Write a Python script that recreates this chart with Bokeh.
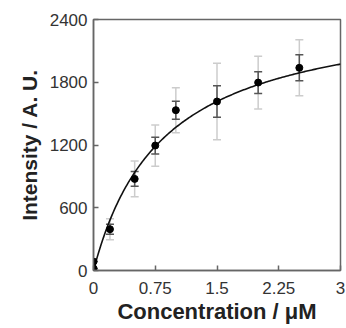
from bokeh.plotting import figure
from bokeh.models import ColumnDataSource, Whisker, FixedTicker, TeeHead
from bokeh.embed import file_html
from bokeh.resources import INLINE
import numpy as np

# data
conc = [0.0, 0.0, 0.2, 0.5, 0.75, 1.0, 1.5, 2.0, 2.5]
intensity = [20, 85, 395, 876, 1195, 1533, 1616, 1797, 1938]
err_small = [0, 0, 48, 70, 80, 86, 150, 104, 124]
err_large = [0, 0, 100, 172, 197, 215, 366, 252, 268]

# fitted saturation curve parameters
vmax = 2533
km = 0.851

x_ticks = [0, 0.75, 1.5, 2.25, 3]
x_tick_labels = ["0", "0.75", "1.5", "2.25", "3"]
y_ticks = [0, 600, 1200, 1800, 2400]

p = figure(width=346, height=328, x_range=(0, 3), y_range=(0, 2400),
           output_backend="svg", toolbar_location=None,
           min_border_left=93, min_border_right=6,
           min_border_top=19, min_border_bottom=58)

src = ColumnDataSource(dict(
    x=conc, y=intensity,
    lo1=[v - e for v, e in zip(intensity, err_large)],
    hi1=[v + e for v, e in zip(intensity, err_large)],
    lo2=[v - e for v, e in zip(intensity, err_small)],
    hi2=[v + e for v, e in zip(intensity, err_small)],
))

w1 = Whisker(source=src, base="x", lower="lo1", upper="hi1",
             line_color="#cccccc", line_width=1.5,
             upper_head=TeeHead(size=8, line_color="#cccccc", line_width=1.5),
             lower_head=TeeHead(size=8, line_color="#cccccc", line_width=1.5))
w2 = Whisker(source=src, base="x", lower="lo2", upper="hi2",
             line_color="#555555", line_width=1.5,
             upper_head=TeeHead(size=8, line_color="#555555", line_width=1.5),
             lower_head=TeeHead(size=8, line_color="#555555", line_width=1.5))
p.add_layout(w1)
p.add_layout(w2)

xs = np.linspace(0, 3, 200)
p.line(xs, vmax * xs / (km + xs), line_color="#111111", line_width=1.6)

p.scatter("x", "y", source=src, size=7, color="black")

p.xgrid.visible = False
p.ygrid.visible = False
p.outline_line_color = "#666666"
p.outline_line_width = 1.5
p.background_fill_color = "white"
p.border_fill_color = "white"

for ax in (p.xaxis[0], p.yaxis[0]):
    ax.axis_line_color = "#666666"
    ax.axis_line_width = 1.5
    ax.major_tick_line_color = "#666666"
    ax.major_tick_line_width = 1.5
    ax.major_tick_in = 5
    ax.major_tick_out = 0
    ax.minor_tick_line_color = None
    ax.major_label_text_font = "Liberation Sans"
    ax.major_label_text_font_size = "17px"
    ax.major_label_text_color = "#333333"
    ax.axis_label_text_font = "Liberation Sans"
    ax.axis_label_text_font_style = "bold"
    ax.axis_label_text_color = "#222222"

p.xaxis.axis_label_text_font_size = "22px"
p.yaxis.axis_label_text_font_size = "21px"

p.xaxis.ticker = FixedTicker(ticks=x_ticks)
p.xaxis.major_label_overrides = {t: l for t, l in zip(x_ticks, x_tick_labels)}
p.yaxis.ticker = FixedTicker(ticks=y_ticks)
p.xaxis.axis_label = "Concentration / μM"
p.yaxis.axis_label = "Intensity / A. U."
p.xaxis.major_label_standoff = 11
p.yaxis.major_label_standoff = 6
p.xaxis.axis_label_standoff = 2
p.yaxis.axis_label_standoff = 6

open("out.html", "w").write(file_html(p, INLINE))
